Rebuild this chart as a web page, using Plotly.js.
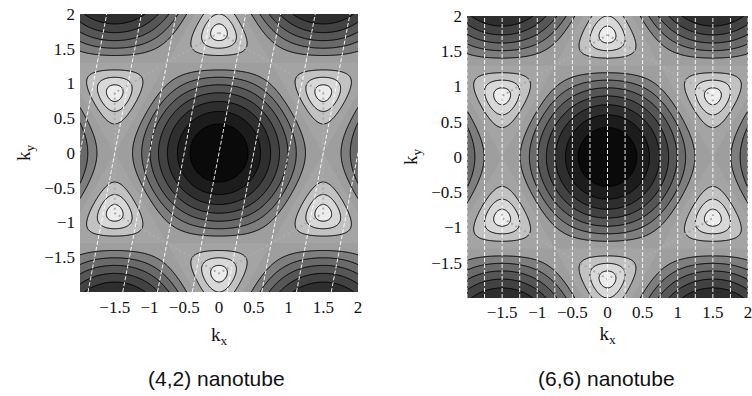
<!DOCTYPE html>
<html>
<head>
<meta charset="utf-8">
<script src="https://cdn.plot.ly/plotly-3.0.1.min.js"></script>
<style>
  html, body { margin: 0; padding: 0; background: #ffffff; }
  #chart { width: 752px; height: 396px; }
</style>
</head>
<body>
<div id="chart"></div>
<script>
// ---- Model parameters (tight-binding graphene valence band, t = 1) ----
const hopping = 1;
const latticeA1 = [2.0944, -1.2092];
const latticeA2 = [2.0944, 1.2092];
const kRange = [-2, 2];
const gridPoints = 201;
// contour levels: start, end, step
const contourStart = -2.75;
const contourEnd = -0.25;
const contourStep = 0.25;
// nanotube chiral indices (n, m) per panel
const chiralN = [4, 6];
const chiralM = [2, 6];
const panelTitles = ['(4,2) nanotube', '(6,6) nanotube'];
// Brillouin-zone hexagon (K points)
const bzX = [0, 1.5, 1.5, 0, -1.5, -1.5, 0];
const bzY = [1.732, 0.866, -0.866, -1.732, -0.866, 0.866, 1.732];
// tick labels
const tickValues = [-1.5, -1, -0.5, 0, 0.5, 1, 1.5, 2];
const tickLabels = ['\u22121.5', '\u22121', '\u22120.5', '0', '0.5', '1', '1.5', '2'];
// grey level per band (lowest band first)
const bandGrays = [10, 28, 46, 66, 86, 106, 126, 158, 164, 194, 216, 236];

// ---- build energy grid ----
const kx = [], ky = [];
for (let i = 0; i < gridPoints; i++) {
  const v = kRange[0] + (kRange[1] - kRange[0]) * i / (gridPoints - 1);
  kx.push(v); ky.push(v);
}
const a3 = [latticeA2[0] - latticeA1[0], latticeA2[1] - latticeA1[1]];
const energy = ky.map(y => kx.map(x => {
  const d1 = x * latticeA1[0] + y * latticeA1[1];
  const d2 = x * latticeA2[0] + y * latticeA2[1];
  const d3 = x * a3[0] + y * a3[1];
  const s = 3 + 2 * Math.cos(d1) + 2 * Math.cos(d2) + 2 * Math.cos(d3);
  return -hopping * Math.sqrt(Math.max(s, 0));
}));

const nBands = bandGrays.length;
const colorscale = bandGrays.map((g, i) => [i / (nBands - 1), `rgb(${g},${g},${g})`]);

// cutting lines k . Ch = 2 pi mu
function cuttingLines(n, m) {
  const ch = [n * latticeA1[0] + m * latticeA2[0], n * latticeA1[1] + m * latticeA2[1]];
  const xs = [], ys = [];
  const eps = 1e-6;
  for (let mu = -40; mu <= 40; mu++) {
    const c = 2 * Math.PI * mu;
    const y0 = kRange[0], y1 = kRange[1];
    const x0 = (c - ch[1] * y0) / ch[0];
    const x1 = (c - ch[1] * y1) / ch[0];
    if (Math.max(x0, x1) > kRange[0] + eps && Math.min(x0, x1) < kRange[1] - eps) {
      xs.push(x0, x1, null); ys.push(y0, y1, null);
    }
  }
  return {xs, ys};
}

const traces = [];
const layout = {
  width: 752, height: 396,
  margin: {l: 0, r: 0, t: 0, b: 0},
  paper_bgcolor: '#ffffff', plot_bgcolor: '#ffffff',
  showlegend: false,
  annotations: []
};

const xDomains = [[80 / 752, 358 / 752], [467 / 752, 748 / 752]];
const yDomains = [[1 - 292 / 396, 1 - 14 / 396], [1 - 298 / 396, 1 - 16 / 396]];
const subX = [216, 606];
const xTickStandoff = [3, 2];
const xTitleStandoff = [11, 5];

for (let p = 0; p < 2; p++) {
  const xa = p === 0 ? 'x' : 'x2';
  const ya = p === 0 ? 'y' : 'y2';
  traces.push({
    type: 'contour', x: kx, y: ky, z: energy, xaxis: xa, yaxis: ya,
    contours: {start: contourStart, end: contourEnd, size: contourStep, coloring: 'fill'},
    colorscale: colorscale, showscale: false, line: {width: 0}, hoverinfo: 'skip'
  });
  // contour lines (the -1 saddle network is not drawn)
  traces.push({
    type: 'contour', x: kx, y: ky, z: energy, xaxis: xa, yaxis: ya,
    contours: {start: contourStart, end: -1.25, size: contourStep, coloring: 'none'},
    showscale: false, line: {width: 1, color: '#000000', smoothing: 0.7}, hoverinfo: 'skip'
  });
  traces.push({
    type: 'contour', x: kx, y: ky, z: energy, xaxis: xa, yaxis: ya,
    contours: {start: -0.75, end: contourEnd, size: contourStep, coloring: 'none'},
    showscale: false, line: {width: 1, color: '#000000', smoothing: 0.7}, hoverinfo: 'skip'
  });
  traces.push({
    type: 'scatter', mode: 'lines', x: bzX, y: bzY, xaxis: xa, yaxis: ya,
    line: {color: 'rgb(172,172,172)', width: 2, dash: '2px,3px'}, hoverinfo: 'skip'
  });
  const cl = cuttingLines(chiralN[p], chiralM[p]);
  traces.push({
    type: 'scatter', mode: 'lines', x: cl.xs, y: cl.ys, xaxis: xa, yaxis: ya,
    line: {color: 'rgba(255,255,255,0.9)', width: 1, dash: '4px,2px'}, hoverinfo: 'skip',
    connectgaps: false
  });

  const axisCommon = {
    range: kRange, showgrid: false, zeroline: false, showline: false,
    tickvals: tickValues, ticktext: tickLabels,
    ticks: '', ticklabeloverflow: 'allow',
    tickfont: {family: 'Liberation Serif', size: 17, color: '#111111'},
    fixedrange: true
  };
  layout[p === 0 ? 'xaxis' : 'xaxis2'] = Object.assign({}, axisCommon, {
    domain: xDomains[p], anchor: ya,
    ticklabelstandoff: xTickStandoff[p],
    title: {text: 'k<sub>x</sub>', font: {family: 'Liberation Serif', size: 19, color: '#111111'}, standoff: xTitleStandoff[p]}
  });
  layout[p === 0 ? 'yaxis' : 'yaxis2'] = Object.assign({}, axisCommon, {
    domain: yDomains[p], anchor: xa,
    ticklabelstandoff: 4,
    title: {text: 'k<sub>y</sub>', font: {family: 'Liberation Serif', size: 19, color: '#111111'}, standoff: 8}
  });
  layout.annotations.push({
    xref: 'paper', yref: 'paper', x: subX[p] / 752, y: 1 - 378 / 396,
    xanchor: 'center', yanchor: 'middle', showarrow: false,
    text: panelTitles[p], font: {family: 'Liberation Sans', size: 21, color: '#111111'}
  });
}

Plotly.newPlot('chart', traces, layout, {staticPlot: true, displayModeBar: false});
</script>
</body>
</html>
